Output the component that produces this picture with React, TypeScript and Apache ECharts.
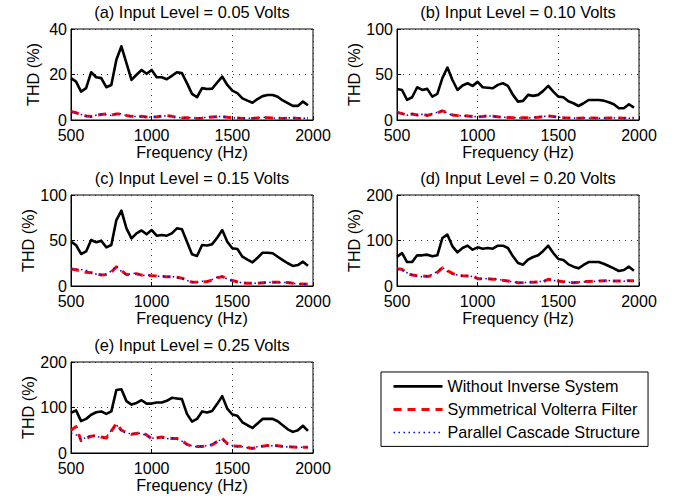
import React, { useEffect, useRef } from "react";
import * as echarts from "echarts";

// Frequency axis samples (Hz)
const FREQ = [500, 531.25, 562.5, 593.75, 625, 656.25, 687.5, 718.75, 750, 781.25, 812.5, 843.75, 875, 906.25, 937.5, 968.75, 1000, 1031.25, 1062.5, 1093.75, 1125, 1156.25, 1187.5, 1218.75, 1250, 1281.25, 1312.5, 1343.75, 1375, 1406.25, 1437.5, 1468.75, 1500, 1531.25, 1562.5, 1593.75, 1625, 1656.25, 1687.5, 1718.75, 1750, 1781.25, 1812.5, 1843.75, 1875, 1906.25, 1937.5, 1968.75];

const SERIES_NAMES = ["Without Inverse System", "Symmetrical Volterra Filter", "Parallel Cascade Structure"];
const TITLES = [
  "(a) Input Level = 0.05 Volts",
  "(b) Input Level = 0.10 Volts",
  "(c) Input Level = 0.15 Volts",
  "(d) Input Level = 0.20 Volts",
  "(e) Input Level = 0.25 Volts",
];
const Y_MAX = [40, 100, 100, 200, 200];
const Y_STEP = [20, 50, 50, 100, 100];
const X_TICKS = [500, 1000, 1500, 2000];

// (a) 0.05 V
const BLACK_A = [18.4, 16.9, 12.5, 14, 21, 18.8, 18.4, 14.4, 15.4, 26.5, 32.4, 25, 17.6, 19.9, 22, 20.3, 22, 18.8, 18.8, 17.9, 19.4, 21, 20.6, 16.2, 11.5, 10, 14, 13.6, 13.8, 16.5, 19.1, 15.4, 12.9, 11.8, 9.5, 8.5, 7.6, 9.2, 10.5, 11, 11, 10.2, 8.6, 7.4, 6.2, 6.2, 8.1, 6.5];
const RED_A = [3.7, 3.2, 2.3, 1.8, 1.5, 2.0, 2.4, 2.6, 2.2, 2.6, 2.7, 2.0, 1.6, 1.5, 1.6, 1.3, 1.2, 1.4, 1.7, 1.9, 1.6, 1.2, 0.9, 1.0, 0.8, 0.7, 0.8, 1.2, 1.3, 1.4, 1.5, 1.2, 1.0, 0.9, 0.7, 0.6, 0.7, 0.9, 1.1, 1.0, 0.9, 0.8, 0.7, 0.8, 0.9, 0.7, 0.7, 0.6];
const BLUE_A = [3.5, 3.0, 2.4, 1.6, 1.4, 2.1, 2.5, 2.4, 2.0, 2.7, 2.8, 1.9, 1.5, 1.6, 1.5, 1.2, 1.3, 1.5, 1.8, 1.8, 1.5, 1.1, 1.0, 1.1, 0.9, 0.8, 0.9, 1.3, 1.4, 1.5, 1.6, 1.1, 0.9, 1.0, 0.8, 0.7, 0.8, 1.0, 1.2, 1.1, 0.8, 0.9, 0.8, 0.9, 1.0, 0.8, 0.8, 0.7];

// (b) 0.10 V
const BLACK_B = [34, 33, 22.1, 25, 36, 33, 34.2, 25.7, 28.7, 46, 57.7, 44, 33, 37.9, 40.4, 37.5, 41.9, 36, 35.5, 34.9, 38.6, 40.4, 37.5, 27.6, 20.2, 21, 27.6, 26.5, 27.6, 32, 37.5, 31.25, 25.7, 25, 20.6, 18.4, 15.4, 18.4, 22, 22, 22, 21.3, 19.5, 17.3, 12.9, 12.9, 17.3, 13.6];
const RED_B = [8.5, 7, 5.5, 6.5, 5.5, 6.5, 5, 6.5, 8, 10, 8, 5.5, 4.8, 5, 4.5, 3.8, 3.5, 3.8, 4.5, 4.2, 3.5, 3, 2.8, 2.5, 2.3, 2.4, 2.4, 2.6, 3, 3.6, 4.4, 3.8, 3.2, 2.6, 2.2, 2, 2, 2.2, 2.2, 2.2, 2, 2, 2.1, 2.2, 2.1, 2, 2, 2];
const BLUE_B = [8.0, 7.2, 5.2, 6.8, 5.3, 6.2, 5.3, 6.8, 8.4, 10.3, 7.6, 5.2, 5.0, 4.7, 4.3, 4.0, 3.3, 4.0, 4.7, 4.0, 3.3, 3.2, 2.6, 2.7, 2.1, 2.6, 2.2, 2.8, 3.2, 3.8, 4.6, 3.6, 3.0, 2.8, 2.0, 2.2, 1.8, 2.4, 2.0, 2.4, 1.8, 2.2, 1.9, 2.4, 1.9, 2.2, 1.8, 2.2];

// (c) 0.15 V
const BLACK_C = [48.7, 45, 35.2, 38, 50.5, 48, 49.8, 42.5, 45, 72.5, 82.8, 63.4, 52.4, 57.9, 61, 56.8, 61.5, 55.3, 56, 55.3, 57.9, 63.4, 62.3, 48.7, 34.8, 33, 45, 44.5, 46, 53, 61.5, 48.7, 41.4, 40.7, 32.2, 29, 26, 31, 36.6, 36.6, 36, 32.2, 28.5, 25, 22, 23, 26.7, 22.3];
const RED_C = [18.7, 17.8, 16.5, 15, 14.5, 13.5, 12, 12.5, 15.5, 21, 17, 12.5, 13, 13.5, 12, 11.5, 11.4, 11, 10.5, 10.3, 10.3, 9.5, 8.6, 6.5, 4.2, 4.4, 4.8, 4.8, 6.5, 9, 10.3, 8, 6, 4.6, 3.6, 3, 2.9, 3.1, 3.5, 4, 4, 4, 4, 3.8, 3, 2.3, 2.1, 2];
const BLUE_C = [19.2, 18.4, 18.0, 17.2, 15.0, 13.0, 12.6, 13.2, 16.5, 22.0, 16.0, 12.0, 13.6, 14.0, 11.6, 11.8, 12.0, 10.6, 10.8, 10.0, 10.6, 9.2, 8.2, 6.0, 4.6, 4.0, 5.2, 5.2, 7.0, 9.6, 10.8, 7.6, 5.6, 5.0, 3.2, 3.4, 2.6, 3.4, 3.2, 4.4, 3.6, 4.4, 3.6, 4.2, 2.8, 2.6, 1.8, 2.3];

// (d) 0.20 V
const BLACK_D = [64, 72.5, 52.7, 52.7, 67.4, 67.4, 68.9, 65.2, 67.4, 105.5, 112.8, 87.2, 74, 83.5, 88.6, 79.8, 85, 82, 83.5, 82, 88.6, 88.6, 83.5, 65.2, 50.5, 46.9, 58, 63.7, 67.4, 77, 88.6, 72.5, 59.3, 57.1, 47.6, 42.5, 38.8, 46.2, 52.7, 52.7, 52.7, 49, 44, 38.8, 33, 35.2, 42.5, 33.7];
const RED_D = [38, 36.6, 27.8, 24, 22.5, 22, 21, 23, 30, 40, 34, 27.8, 23.4, 22.5, 22, 22, 16, 16, 16, 15, 14.6, 12.5, 11, 9, 7.3, 7.5, 8, 8.5, 9, 9.5, 14.6, 13, 11, 9.5, 8.5, 7.3, 8, 9.5, 10, 10.5, 11, 11.7, 11.5, 11, 11, 11, 11.7, 11.5];
const BLUE_D = [36, 35, 29, 25, 21.5, 20.5, 22, 25, 32, 41, 32, 26.5, 24, 21.5, 23, 20.5, 17, 15.5, 16.5, 14, 15.5, 12, 11.5, 8.5, 7.8, 7, 8.5, 8, 9.5, 10.5, 15.5, 12, 10.5, 9, 8, 7.8, 8.5, 9, 10.5, 10, 11.5, 11, 12, 10.5, 11.5, 10.5, 12, 11];

// (e) 0.25 V
const BLACK_E = [88, 93.6, 70, 75, 84, 89.5, 91.4, 86, 91.4, 138.6, 140, 114, 106.4, 110, 116, 108.6, 108.6, 110.9, 110.9, 114.6, 121.3, 119.9, 118.4, 86, 69, 74.9, 91.4, 89, 92.5, 108, 125, 97.4, 84.6, 82, 67.4, 61, 55, 65, 74.9, 74.9, 74.9, 69.7, 61, 52, 46.4, 50.2, 59.9, 48.7];
const RED_E = [50, 58, 27, 32, 37, 38, 35, 33, 48, 65, 50, 45, 41, 43, 45, 40, 31, 33, 35, 32.5, 32, 32, 27.5, 19, 15, 14.2, 14.5, 15, 18, 25, 32, 21, 15.5, 15, 15, 12, 10, 13, 15, 16.5, 17, 16, 14.5, 13.8, 13.2, 12.7, 12.5, 12.5];
const BLUE_E = [44, 40, 30, 34, 39, 36.5, 34, 35, 50, 62, 48, 44, 42, 44, 43, 38, 32, 34, 33.5, 31, 33, 30.5, 26, 18, 16, 13.5, 15.5, 16, 19.5, 26, 30, 20, 16.5, 14, 14, 11.5, 11, 14, 15.5, 16, 16, 15, 15, 13, 13.5, 12, 13, 12];

const BLACKS = [BLACK_A, BLACK_B, BLACK_C, BLACK_D, BLACK_E];
const REDS = [RED_A, RED_B, RED_C, RED_D, RED_E];
const BLUES = [BLUE_A, BLUE_B, BLUE_C, BLUE_D, BLUE_E];

// Layout (pixels)
const GRID_POS = [
  [71, 29],
  [397, 29],
  [71, 195],
  [397, 195],
  [71, 362],
];
const GRID_W = 242;
const GRID_H = 91;
const FONT = "'Liberation Sans', Arial, Helvetica, sans-serif";

const LINE_STYLES = [
  { color: "#000000", width: 2.6, type: "solid" as any },
  { color: "#ff0000", width: 3, type: [8, 6] as any },
  { color: "#0000ff", width: 1.5, type: [1.5, 3.5] as any },
];

function buildOption() {
  const grid = GRID_POS.map(([l, t]) => ({
    left: l,
    top: t,
    width: GRID_W,
    height: GRID_H,
    show: true,
    borderColor: "#000",
    borderWidth: 1,
    backgroundColor: "#fff",
    containLabel: false,
  }));

  const title = TITLES.map((text, i) => ({
    text,
    left: GRID_POS[i][0] + GRID_W / 2,
    top: GRID_POS[i][1] - 25,
    textAlign: "center",
    padding: 0,
    textStyle: { fontSize: 16.4, fontWeight: "normal", color: "#000", fontFamily: FONT },
  }));

  const xAxis = TITLES.map((_, i) => ({
    type: "value",
    gridIndex: i,
    min: X_TICKS[0],
    max: X_TICKS[X_TICKS.length - 1],
    interval: X_TICKS[1] - X_TICKS[0],
    name: "Frequency (Hz)",
    nameLocation: "middle",
    nameGap: 24,
    nameTextStyle: { fontSize: 16.2, color: "#000", fontFamily: FONT },
    axisLine: { show: true, onZero: false, lineStyle: { color: "#000", width: 1 } },
    axisTick: { show: true, inside: true, length: 4, lineStyle: { color: "#000" } },
    axisLabel: {
      fontSize: 16,
      lineHeight: 13,
      color: "#000",
      margin: 9,
      fontFamily: FONT,
      showMinLabel: true,
      showMaxLabel: true,
      formatter: (v: number) => String(v),
    },
    splitLine: { show: true, lineStyle: { color: "#333", width: 1, type: [1, 5] } },
  }));

  const yAxis = TITLES.map((_, i) => ({
    type: "value",
    gridIndex: i,
    min: 0,
    max: Y_MAX[i],
    interval: Y_STEP[i],
    name: "THD (%)",
    nameLocation: "middle",
    nameGap: 30,
    nameTextStyle: { fontSize: 16.2, color: "#000", fontFamily: FONT },
    axisLine: { show: true, lineStyle: { color: "#000", width: 1 } },
    axisTick: { show: true, inside: true, length: 4, lineStyle: { color: "#000" } },
    axisLabel: {
      fontSize: 16,
      lineHeight: 13,
      color: "#000",
      margin: 4,
      fontFamily: FONT,
      showMinLabel: true,
      showMaxLabel: true,
      formatter: (v: number) => String(v),
    },
    splitLine: { show: true, lineStyle: { color: "#333", width: 1, type: [1, 5] } },
  }));

  const series: any[] = [];
  TITLES.forEach((_, i) => {
    const sets = [BLACKS[i], REDS[i], BLUES[i]];
    sets.forEach((vals, s) => {
      series.push({
        type: "line",
        name: SERIES_NAMES[s],
        xAxisIndex: i,
        yAxisIndex: i,
        symbol: "none",
        smooth: false,
        clip: true,
        z: 2 + s,
        data: FREQ.map((f, j) => [f, vals[j]]),
        lineStyle: { ...LINE_STYLES[s], cap: "butt", join: "round" },
        itemStyle: { color: LINE_STYLES[s].color },
      });
    });
  });

  return {
    animation: false,
    backgroundColor: "#fff",
    title,
    grid,
    xAxis,
    yAxis,
    series,
    legend: {
      orient: "vertical",
      left: 381,
      top: 372,
      padding: [5.4, 8, 5, 11],
      itemGap: 5,
      itemWidth: 49,
      itemHeight: 18,
      borderColor: "#000",
      borderWidth: 1,
      backgroundColor: "#fff",
      selectedMode: false,
      textStyle: { fontSize: 16.2, color: "#000", fontFamily: FONT, lineHeight: 18 },
      data: SERIES_NAMES.map((name, s) => ({
        name,
        itemStyle: { opacity: 0, color: "transparent", borderWidth: 0 },
        lineStyle: { color: LINE_STYLES[s].color, width: LINE_STYLES[s].width, type: LINE_STYLES[s].type },
      })),
    },
  };
}

export default function App() {
  const ref = useRef<HTMLDivElement>(null);
  useEffect(() => {
    document.body.style.margin = "0";
    if (!ref.current) return;
    const chart = echarts.init(ref.current, undefined, { renderer: "svg" });
    chart.setOption(buildOption() as any);
    return () => chart.dispose();
  }, []);
  return <div ref={ref} style={{ width: 681, height: 500 }} />;
}
